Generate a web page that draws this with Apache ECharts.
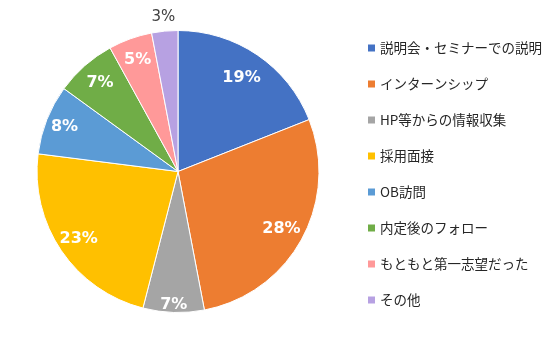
<!DOCTYPE html>
<html>
<head>
<meta charset="utf-8">
<style>
  html, body { margin: 0; padding: 0; background: #fff; }
  #chart { width: 560px; height: 337px; }
</style>
<script src="https://cdn.jsdelivr.net/npm/echarts@6/dist/echarts.min.js"></script>
</head>
<body>
<div id="chart"></div>
<script>
// Reasons for choosing the company (share of respondents, %)
const categories = [
  '説明会・セミナーでの説明',
  'インターンシップ',
  'HP等からの情報収集',
  '採用面接',
  'OB訪問',
  '内定後のフォロー',
  'もともと第一志望だった',
  'その他'
];
const shares = [19, 28, 7, 23, 8, 7, 5, 3];

const colors = ['#4472C4', '#ED7D31', '#A5A5A5', '#FFC000', '#5B9BD5', '#70AD47', '#FF9999', '#B7A1E2'];

// Pie geometry
const CX = 178, CY = 171.5, R = 141;
// Distance of each value label from the pie centre
const labelDist = [110, 115, 130, 117, 119, 115, 116, 152];

const FONT = '"Noto Sans CJK JP", "Noto Sans", sans-serif';

const mainSeries = {
  type: 'pie',
  center: [CX, CY],
  radius: [0, R],
  startAngle: 90,
  clockwise: true,
  animation: false,
  silent: true,
  label: { show: false },
  labelLine: { show: false },
  itemStyle: { borderColor: '#ffffff', borderWidth: 1 },
  data: categories.map((name, i) => ({
    name, value: shares[i], itemStyle: { color: colors[i] }
  }))
};

// Transparent rings that carry the value labels; an 'inside' label sits
// halfway across its ring, so each ring is sized to put labels at labelDist.
const groups = [...new Set(labelDist)];
const labelSeries = groups.map(d => {
  const inner = d <= R ? 2 * d - R : R;
  const outer = d <= R ? R : 2 * d - R;
  return {
    type: 'pie',
    center: [CX, CY],
    radius: [inner, outer],
    startAngle: 90,
    clockwise: true,
    animation: false,
    silent: true,
    avoidLabelOverlap: false,
    labelLine: { show: false },
    emphasis: { disabled: true },
    itemStyle: { color: 'rgba(0,0,0,0)', borderWidth: 0 },
    data: categories.map((name, i) => {
      const outside = labelDist[i] > R;
      return {
        name,
        value: shares[i],
        label: {
          show: labelDist[i] === d,
          position: 'inside',
          formatter: '{c}%',
          color: outside ? '#404040' : '#ffffff',
          fontWeight: outside ? 'normal' : 'bold',
          fontSize: outside ? 15 : 16,
          fontFamily: 'DejaVu Sans, sans-serif'
        }
      };
    })
  };
});

const chart = echarts.init(document.getElementById('chart'), null, { renderer: 'canvas' });
chart.setOption({
  backgroundColor: '#ffffff',
  animation: false,
  legend: {
    orient: 'vertical',
    left: 363,
    top: 36,
    padding: 5,
    itemWidth: 7,
    itemHeight: 7,
    itemGap: 22,
    icon: 'rect',
    selectedMode: false,
    itemStyle: { borderWidth: 0 },
    textStyle: { fontFamily: FONT, fontSize: 13.5, color: '#262626', lineHeight: 14 },
    data: categories.map((name, i) => ({ name, itemStyle: { color: colors[i], borderWidth: 0 } }))
  },
  series: [mainSeries, ...labelSeries]
});
</script>
</body>
</html>
